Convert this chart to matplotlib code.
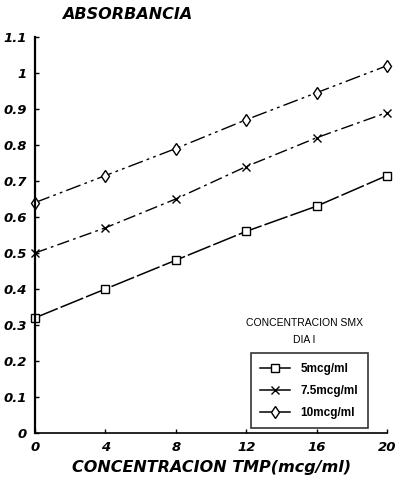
import matplotlib
matplotlib.use('Agg')
import matplotlib.pyplot as plt
from matplotlib.lines import Line2D

# TMP concentration (mcg/ml) and absorbance for each SMX concentration
tmp_conc = [0, 4, 8, 12, 16, 20]
abs_5 = [0.32, 0.40, 0.48, 0.56, 0.63, 0.715]
abs_75 = [0.50, 0.57, 0.65, 0.74, 0.82, 0.89]
abs_10 = [0.64, 0.715, 0.79, 0.87, 0.945, 1.02]

series_labels = ['5mcg/ml', '7.5mcg/ml', '10mcg/ml']
y_ticks = [0, 0.1, 0.2, 0.3, 0.4, 0.5, 0.6, 0.7, 0.8, 0.9, 1, 1.1]
y_tick_labels = ['0', '0.1', '0.2', '0.3', '0.4', '0.5', '0.6', '0.7', '0.8', '0.9', '1', '1.1']

plt.rcParams['font.family'] = ['Liberation Sans', 'DejaVu Sans']
heavy = dict(family='DejaVu Sans', fontweight='bold', fontstyle='italic')

fig = plt.figure(figsize=(3.99, 4.79), dpi=100)
ax = fig.add_axes([0.088, 0.096, 0.882, 0.827])

styles = [
    dict(ls=(0, (16, 2)), lw=1.1, marker='s', ms=5.5, mfc='white'),
    dict(ls=(0, (9, 3, 2, 3)), lw=1.0, marker='x', ms=5.5, mfc='none'),
    dict(ls=(0, (11, 3, 2, 3, 2, 3)), lw=1.0, marker='d', ms=6.5, mfc='white'),
]
for vals, st, lab in zip([abs_5, abs_75, abs_10], styles, series_labels):
    ax.plot(tmp_conc, vals, color='black', mec='black', mew=1.0,
            clip_on=False, label=lab, **st)

ax.set_xlim(0, 20)
ax.set_ylim(0, 1.1)
ax.set_xticks(tmp_conc)
ax.set_yticks(y_ticks)
ax.set_yticklabels(y_tick_labels)
for lbl in ax.get_xticklabels() + ax.get_yticklabels():
    lbl.set_family('DejaVu Sans')
    lbl.set_fontweight('bold')
    lbl.set_fontstyle('italic')
    lbl.set_fontsize(9.5)
ax.tick_params(direction='in', length=3, width=1, pad=6)

ax.spines['top'].set_visible(False)
ax.spines['right'].set_visible(False)
ax.spines['left'].set_linewidth(1.6)
ax.spines['bottom'].set_linewidth(1.2)

ax.set_xlabel('CONCENTRACION TMP(mcg/ml)', fontsize=11.5, labelpad=4, **heavy)
fig.text(0.155, 0.97, 'ABSORBANCIA', fontsize=11.5, ha='left', va='center', **heavy)

# legend keys drawn with plain solid lines, title written above the box
handles = [Line2D([], [], color='black', lw=1.1, marker=st['marker'], ms=st['ms'],
                  mfc=st['mfc'], mec='black', mew=1.0) for st in styles]
leg = ax.legend(handles, series_labels, loc='lower right',
                bbox_to_anchor=(0.945, 0.012), frameon=True,
                fancybox=False, edgecolor='black', fontsize=8.5,
                handlelength=2.5, handletextpad=0.9, labelspacing=0.85,
                borderpad=0.8, borderaxespad=0)
leg.get_frame().set_linewidth(1.2)
for t in leg.get_texts():
    t.set_fontweight('bold')
ax.text(0.765, 0.278, 'CONCENTRACION SMX', transform=ax.transAxes,
        fontsize=7.5, ha='center', va='center')
ax.text(0.765, 0.235, 'DIA I', transform=ax.transAxes,
        fontsize=7.5, ha='center', va='center')

fig.savefig('out.png', dpi=100)
